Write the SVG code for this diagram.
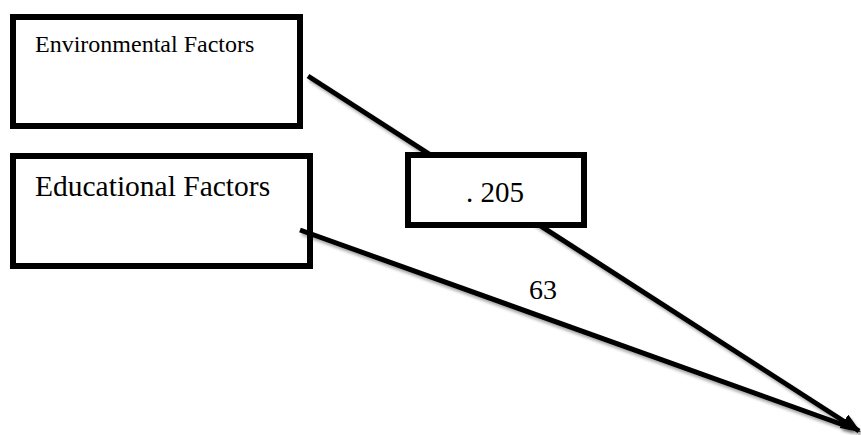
<svg xmlns="http://www.w3.org/2000/svg" width="861" height="435" viewBox="0 0 861 435">
<style>
.box{fill:#fff;stroke:#000;stroke-width:6}
.lbl{font-family:"Liberation Serif","Times New Roman",serif;fill:#000}
.con{stroke:#000;stroke-width:5;fill:none;filter:url(#sh)}
</style>
<defs>
<filter id="sh" x="-10%" y="-10%" width="120%" height="130%">
<feDropShadow dx="2" dy="3" stdDeviation="1.5" flood-color="#000" flood-opacity="0.35"/>
</filter>
<marker id="ah" markerUnits="userSpaceOnUse" markerWidth="20" markerHeight="16" refX="18" refY="8" orient="auto">
<path d="M0,0 L20,8 L0,16 Z" fill="#000"/>
</marker>
</defs>
<rect width="861" height="435" fill="#fff"/>
<g id="environmental">
<rect class="box" x="13" y="17" width="287" height="109"/>
<text class="lbl" x="35" y="52" font-size="24">Environmental Factors</text>
</g>
<g id="educational">
<rect class="box" x="13" y="156" width="297" height="110"/>
<text class="lbl" x="35" y="196" font-size="29.5">Educational Factors</text>
</g>
<g id="connectors">
<line class="con" x1="308" y1="76" x2="859" y2="431" marker-end="url(#ah)"/>
<line class="con" x1="300" y1="230" x2="852" y2="428"/>
</g>
<g id="coef205">
<rect class="box" x="408" y="155" width="176" height="70"/>
<text class="lbl" x="466" y="202" font-size="29">. 205</text>
</g>
<g id="coef63">
<text class="lbl" x="529" y="299" font-size="28">63</text>
</g>
</svg>
